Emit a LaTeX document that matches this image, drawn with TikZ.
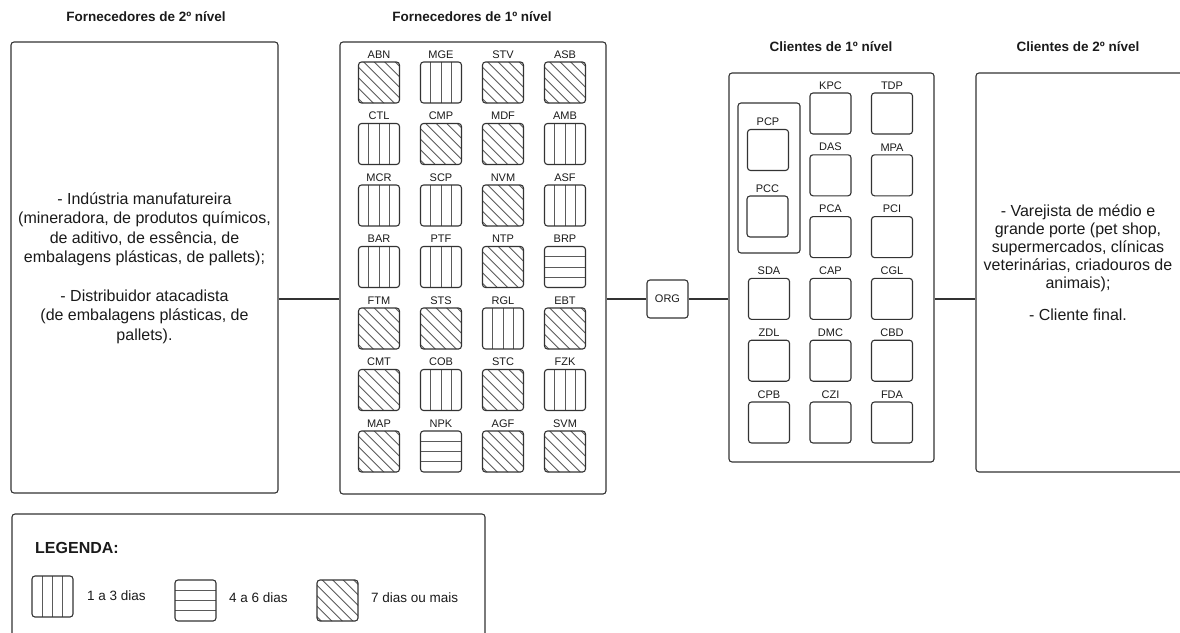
\documentclass[tikz,border=0pt]{standalone}
\usepackage{fontspec}
\setmainfont{Liberation Sans}
\usetikzlibrary{calc}
\definecolor{bdc}{HTML}{333333}
\definecolor{stc}{HTML}{5A5A5A}
\definecolor{txc}{HTML}{1A1A1A}
\begin{document}
\begin{tikzpicture}[x=1pt,y=-1pt,
  bd/.style={draw=bdc, line width=1.1pt, rounded corners=3pt},
  panel/.style={bd, inner sep=0pt, text=txc},
  stripe/.style={draw=stc, line width=0.75pt},
  cell/.style={bd, minimum width=41pt, minimum height=41pt, inner sep=0pt},
  lbl/.style={font=\fontsize{11}{12}\selectfont, inner sep=0pt, text=txc},
  lab/.style={label={[lbl, label distance=3pt]above:#1}},
  vcell/.style={cell, path picture={\foreach \q in {-10.25,0,10.25} \draw[stripe] ([xshift=\q pt]path picture bounding box.north) -- ([xshift=\q pt]path picture bounding box.south);}},
  hcell/.style={cell, path picture={\foreach \q in {-10.25,0,10.25} \draw[stripe] ([yshift=\q pt]path picture bounding box.west) -- ([yshift=\q pt]path picture bounding box.east);}},
  dcell/.style={cell, path picture={\foreach \q in {-36.75,-26.25,-15.75,-5.25,5.25,15.75,26.25,36.75} \draw[stripe] ($(path picture bounding box.center)+(\q pt,0pt)+(-30pt,30pt)$) -- +(60pt,-60pt);}},
  ecell/.style={cell},
  title/.style={font=\fontsize{13.5}{15}\selectfont\bfseries, text=txc, inner sep=0pt},
  body/.style={font=\fontsize{16}{19.4}\selectfont, align=center, text=txc, inner sep=0pt},
  leg/.style={font=\fontsize{13.5}{16}\selectfont, text=txc, inner sep=0pt, anchor=west},
  conn/.style={draw=bdc, line width=1.1pt}
]
\useasboundingbox (0,0) rectangle (1180,632);

% titles
\node[title] (t1) at (146,17) {Fornecedores de 2º nível};
\node[title] (t2) at (472,17) {Fornecedores de 1º nível};
\node[title] (t3) at (831,47) {Clientes de 1º nível};
\node[title] (t4) at (1078,47) {Clientes de 2º nível};

% panels
\node[panel, minimum width=267pt, minimum height=451pt] (left) at (144.5,267.5) {};
\node[body] (lefttxt) at (144.5,268) {- Indústria manufatureira\\(mineradora, de produtos químicos,\\de aditivo, de essência, de\\embalagens plásticas, de pallets);\\[19.4pt]- Distribuidor atacadista\\(de embalagens plásticas, de\\pallets).};

\node[panel, minimum width=266pt, minimum height=452pt] (sup) at (473,268) {};
\node[panel, minimum width=205pt, minimum height=389pt] (cli) at (831.5,267.5) {};
\node[panel, minimum width=62pt, minimum height=150pt] (grp) at (769,178) {};
\node[panel, minimum width=207pt, minimum height=399pt] (right) at (1079.5,272.5) {};
\node[body, font=\fontsize{16}{18}\selectfont] (righttxt) at (1078,263) {- Varejista de médio e\\grande porte (pet shop,\\supermercados, clínicas\\veterinárias, criadouros de\\animais);\\[14pt]- Cliente final.};

\node[panel, minimum width=41pt, minimum height=38pt, font=\fontsize{11}{12}\selectfont] (org) at (667.5,299) {ORG};

% supplier cells
\foreach \nm/\ty/\c/\r in {
  ABN/dcell/1/1, MGE/vcell/2/1, STV/dcell/3/1, ASB/dcell/4/1,
  CTL/vcell/1/2, CMP/dcell/2/2, MDF/dcell/3/2, AMB/vcell/4/2,
  MCR/vcell/1/3, SCP/vcell/2/3, NVM/dcell/3/3, ASF/vcell/4/3,
  BAR/vcell/1/4, PTF/vcell/2/4, NTP/dcell/3/4, BRP/hcell/4/4,
  FTM/dcell/1/5, STS/dcell/2/5, RGL/vcell/3/5, EBT/dcell/4/5,
  CMT/dcell/1/6, COB/vcell/2/6, STC/dcell/3/6, FZK/vcell/4/6,
  MAP/dcell/1/7, NPK/hcell/2/7, AGF/dcell/3/7, SVM/dcell/4/7}
  \node[style=\ty, lab=\nm] (\nm) at ({379+62*(\c-1)},{82.5+61.5*(\r-1)}) {};

% client cells
\node[ecell, lab=PCP] (PCP) at (768,150) {};
\node[ecell, lab=PCC] (PCC) at (767.5,216.5) {};
\foreach \nm/\c/\r in {
  KPC/2/1, TDP/3/1, DAS/2/2, MPA/3/2, PCA/2/3, PCI/3/3,
  SDA/1/4, CAP/2/4, CGL/3/4, ZDL/1/5, DMC/2/5, CBD/3/5,
  CPB/1/6, CZI/2/6, FDA/3/6}
  \node[ecell, lab=\nm] (\nm) at ({769+61.5*(\c-1)},{113.5+61.8*(\r-1)}) {};

% connectors
\draw[conn] (left.east |- org.center) -- (sup.west |- org.center);
\draw[conn] (sup.east |- org.center) -- (org.west);
\draw[conn] (org.east) -- (cli.west |- org.center);
\draw[conn] (cli.east |- org.center) -- (right.west |- org.center);

% legend
\node[panel, minimum width=473pt, minimum height=131pt] (legend) at (248.5,579.5) {};
\node[leg, font=\fontsize{16}{18}\selectfont\bfseries] (legt) at (35,548) {LEGENDA:};
\node[vcell] (lv) at (52.5,596.5) {};
\node[leg] (lvt) at (87,596) {1 a 3 dias};
\node[hcell] (lh) at (195.5,600.5) {};
\node[leg] (lht) at (229,598) {4 a 6 dias};
\node[dcell] (ld) at (337.5,600.5) {};
\node[leg] (ldt) at (371,598) {7 dias ou mais};
\end{tikzpicture}
\end{document}
